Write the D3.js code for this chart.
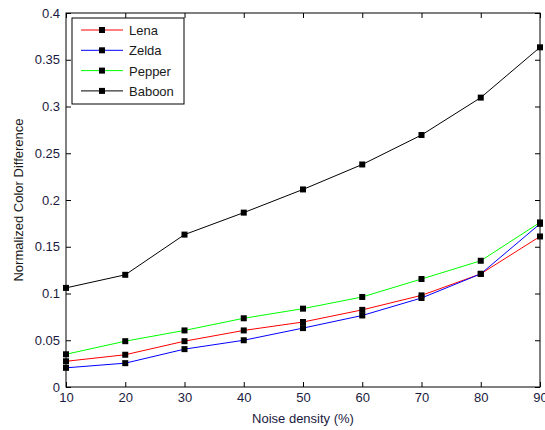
<!DOCTYPE html>
<html>
<head>
<meta charset="utf-8">
<script src="https://cdn.jsdelivr.net/npm/d3@7"></script>
<style>
body { margin: 0; background: #fff; }
text { font-family: "Liberation Sans", Arial, sans-serif; }
</style>
</head>
<body>
<svg id="chart" width="545" height="430"></svg>
<script>
// noise density (%)
var densities = [10, 20, 30, 40, 50, 60, 70, 80, 90];
var lena   = [0.0275, 0.0345, 0.049, 0.0605, 0.0695, 0.0825, 0.098, 0.121, 0.161];
var zelda  = [0.0205, 0.0255, 0.0405, 0.050, 0.063, 0.0765, 0.0952, 0.121, 0.1745];
var pepper = [0.035, 0.049, 0.0605, 0.0735, 0.0838, 0.0963, 0.1155, 0.135, 0.176];
var baboon = [0.106, 0.120, 0.163, 0.1865, 0.2113, 0.238, 0.2695, 0.3095, 0.3633];
var seriesNames = ['Lena', 'Zelda', 'Pepper', 'Baboon'];
var seriesColors = ['#ff0000', '#0000ff', '#00ff00', '#000000'];
var xTicks = [10, 20, 30, 40, 50, 60, 70, 80, 90];
var yTicks = [0, 0.05, 0.1, 0.15, 0.2, 0.25, 0.3, 0.35, 0.4];

var allSeries = [lena, zelda, pepper, baboon];

var plot = {left: 66, right: 540, top: 13, bottom: 387};
var svg = d3.select('#chart');

var x = d3.scaleLinear().domain([10, 90]).range([plot.left, plot.right]);
var y = d3.scaleLinear().domain([0, 0.4]).range([plot.bottom, plot.top]);

var tickLen = 5;
var fmt = function(d) { return d3.format('~g')(d); };

// axes: ticks point inward, mirrored on opposite sides
svg.append('g')
	.attr('transform', 'translate(0,' + plot.bottom + ')')
	.call(d3.axisBottom(x).tickValues(xTicks).tickSizeInner(-tickLen).tickSizeOuter(0).tickPadding(6).tickFormat(fmt));
svg.append('g')
	.attr('transform', 'translate(0,' + plot.top + ')')
	.call(d3.axisTop(x).tickValues(xTicks).tickSizeInner(-tickLen).tickSizeOuter(0).tickFormat(''));
svg.append('g')
	.attr('transform', 'translate(' + plot.left + ',0)')
	.call(d3.axisLeft(y).tickValues(yTicks).tickSizeInner(-tickLen).tickSizeOuter(0).tickPadding(6).tickFormat(fmt));
svg.append('g')
	.attr('transform', 'translate(' + plot.right + ',0)')
	.call(d3.axisRight(y).tickValues(yTicks).tickSizeInner(-tickLen).tickSizeOuter(0).tickFormat(''));

svg.selectAll('.domain').remove();
svg.selectAll('.tick line').attr('stroke', '#000');
svg.selectAll('.tick text')
	.attr('font-size', 13)
	.attr('font-family', '"Liberation Sans", Arial, sans-serif')
	.attr('fill', '#1a1a40');

// frame
svg.append('rect')
	.attr('x', plot.left).attr('y', plot.top)
	.attr('width', plot.right - plot.left).attr('height', plot.bottom - plot.top)
	.attr('fill', 'none').attr('stroke', '#000').attr('stroke-width', 1);

var line = d3.line()
	.x(function(d, i) { return x(densities[i]); })
	.y(function(d) { return y(d); });

allSeries.forEach(function(values, k) {
	svg.append('path')
		.attr('d', line(values))
		.attr('fill', 'none')
		.attr('stroke', seriesColors[k])
		.attr('stroke-width', 1);
	svg.selectAll('.m' + k)
		.data(values)
		.enter().append('rect')
		.attr('class', 'm' + k)
		.attr('x', function(d, i) { return x(densities[i]) - 3; })
		.attr('y', function(d) { return y(d) - 3; })
		.attr('width', 6).attr('height', 6)
		.attr('fill', '#000');
});

// legend
var legend = svg.append('g');
legend.append('rect')
	.attr('x', 72).attr('y', 18).attr('width', 112).attr('height', 86)
	.attr('fill', '#fff').attr('stroke', '#000').attr('stroke-width', 1);
seriesNames.forEach(function(name, k) {
	var ly = 30 + k * 20.3;
	legend.append('line')
		.attr('x1', 81).attr('x2', 123).attr('y1', ly).attr('y2', ly)
		.attr('stroke', seriesColors[k]).attr('stroke-width', 1);
	legend.append('rect')
		.attr('x', 99).attr('y', ly - 3).attr('width', 6).attr('height', 6)
		.attr('fill', '#000');
	legend.append('text')
		.attr('x', 129).attr('y', ly + 5)
		.attr('font-size', 13)
		.attr('fill', '#1a1a1a')
		.text(name);
});

// axis titles
svg.append('text')
	.attr('x', (plot.left + plot.right) / 2).attr('y', 423)
	.attr('text-anchor', 'middle')
	.attr('font-size', 13)
	.attr('fill', '#1a1a40')
	.text('Noise density (%)');
svg.append('text')
	.attr('transform', 'translate(23,' + (plot.top + plot.bottom) / 2 + ') rotate(-90)')
	.attr('text-anchor', 'middle')
	.attr('font-size', 13)
	.attr('fill', '#1a1a1a')
	.text('Normalized Color Difference');
</script>
</body>
</html>
